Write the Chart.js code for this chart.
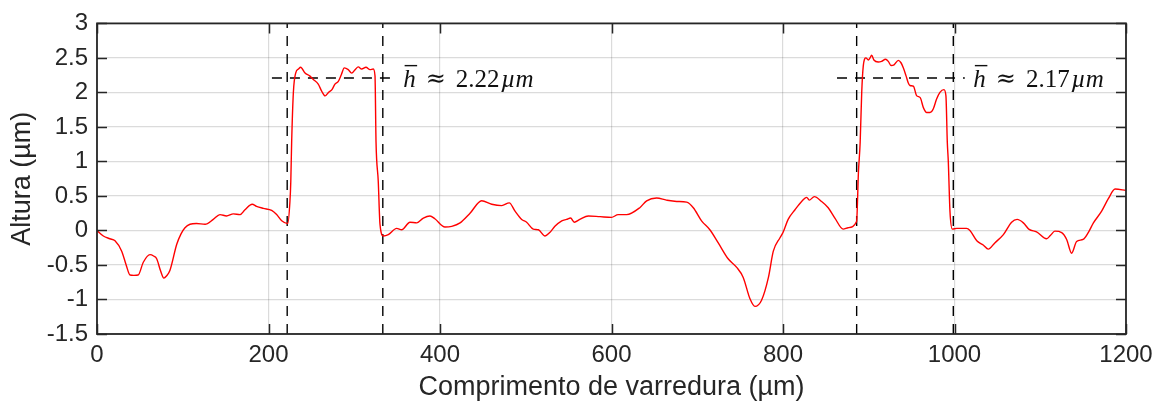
<!DOCTYPE html>
<html>
<head>
<meta charset="utf-8">
<script src="https://cdn.jsdelivr.net/npm/chart.js@4.4.1/dist/chart.umd.min.js"></script>
<style>
  html, body { margin: 0; padding: 0; background: #ffffff; }
  #wrap { width: 1165px; height: 406px; position: relative; }
</style>
</head>
<body>
<div id="wrap"><canvas id="c"></canvas></div>
<script>
// ---- data ----
const scanPositions = [0, 7.4, 15, 21, 28.8, 34, 38.5, 43, 48, 54, 61.8, 66, 69.6, 74, 78, 81, 85, 93, 98, 102.6,
  108.5, 116, 126, 135.6, 143.4, 151, 159, 166.8, 172.6, 181, 186, 194, 203.7, 209.5, 215.4, 222.4, 225, 226, 227, 229,
  231.7, 235, 237.5, 242.6, 248, 252, 258, 262, 266, 270, 274, 277.5, 281.4, 285, 288.4, 293, 297, 301, 304.7, 308.6,
  313.7, 318.4, 322.2, 324.2, 325.4, 328, 330, 334, 339.7, 349.5, 355.3, 365, 372.8, 380.6, 388.3, 394, 405.8, 413.7, 423.4, 435,
  448.6, 460.3, 472, 480.8, 487.5, 495.3, 501, 508.8, 514.7, 522.5, 528, 534, 542, 547.6, 552.3, 556.6, 563, 573, 586.6, 600,
  607.8, 617.6, 633, 641, 652.6, 664, 676, 687.6, 695.4, 705, 714.7, 724.5, 736, 746, 753.6, 761.5, 767.3, 775, 783, 788.7,
  796.5, 800, 806, 814, 821.7, 827.6, 830.6, 836.5, 845, 852.7, 860.5, 870.2, 876, 885.8, 888, 890, 891.8, 893.6, 896.7, 899.5,
  901.5, 903.4, 906, 911, 915, 919.6, 922.8, 926, 929.5, 934.5, 937.6, 940.4, 943.5, 946, 948, 952, 956, 960, 963.7, 967.6,
  971.4, 975.2, 979, 983, 987.7, 990, 991.6, 992.8, 994.7, 997.5, 1002.5, 1014, 1018, 1026, 1033.5, 1039.4, 1047, 1057, 1066.6, 1073,
  1080.3, 1087, 1095.7, 1107.4, 1112, 1117, 1125, 1130.8, 1136.6, 1142.4, 1150, 1156, 1162, 1171.6, 1179.4, 1187.3, 1200];
const heights = [0, -0.08, -0.12, -0.15, -0.3, -0.5, -0.645, -0.65, -0.645, -0.46, -0.35, -0.37, -0.41, -0.58, -0.69, -0.66, -0.58, -0.2, -0.05, 0.04,
  0.09, 0.1, 0.09, 0.16, 0.23, 0.21, 0.24, 0.23, 0.30, 0.38, 0.35, 0.32, 0.29, 0.23, 0.14, 0.1, 0.42, 0.71, 1.28, 2.0,
  2.28, 2.34, 2.365, 2.28, 2.24, 2.19, 2.12, 2.02, 1.95, 2.0, 2.04, 2.12, 2.16, 2.26, 2.355, 2.33, 2.28, 2.33, 2.37, 2.34,
  2.365, 2.33, 2.34, 2.24, 1.28, 0.71, 0.09, -0.08, -0.06, 0.03, 0.01, 0.12, 0.11, 0.18, 0.21, 0.17, 0.05, 0.06, 0.11, 0.25,
  0.43, 0.38, 0.36, 0.40, 0.28, 0.16, 0.12, 0.02, 0.01, -0.08, -0.03, 0.06, 0.14, 0.16, 0.18, 0.12, 0.16, 0.21, 0.20, 0.19,
  0.23, 0.23, 0.33, 0.43, 0.47, 0.44, 0.42, 0.41, 0.33, 0.14, 0.01, -0.18, -0.41, -0.535, -0.68, -0.99, -1.10, -1.01, -0.68, -0.30,
  -0.105, -0.03, 0.16, 0.30, 0.42, 0.48, 0.44, 0.49, 0.42, 0.33, 0.18, 0.02, 0.04, 0.13, 0.85, 1.28, 2.0, 2.38, 2.50, 2.47,
  2.50, 2.54, 2.47, 2.44, 2.45, 2.48, 2.45, 2.39, 2.40, 2.465, 2.43, 2.355, 2.24, 2.14, 2.10, 2.09, 1.95, 1.925, 1.78, 1.71,
  1.71, 1.76, 1.90, 2.0, 2.04, 1.95, 1.28, 0.99, 0.28, 0.02, 0.03, 0.03, 0.0, -0.15, -0.21, -0.27, -0.18, -0.06, 0.12, 0.16,
  0.11, 0.015, -0.02, -0.12, -0.07, -0.01, -0.03, -0.13, -0.33, -0.16, -0.13, -0.03, 0.11, 0.28, 0.46, 0.60, 0.58];

// step edges (vertical dashed markers)
const stepEdges = [221.8, 333.3, 885.9, 998.6];
// mean height reference lines: start, end, level, label
const meanLineStart = [204, 863];
const meanLineEnd = [347.5, 1012];
const meanLineLevel = [2.21, 2.21];
const meanLabelValues = ['2.22', '2.17'];
const meanLabelX = [357, 1022];

const xTickValues = [0, 200, 400, 600, 800, 1000, 1200];
const xTickLabels = ['0', '200', '400', '600', '800', '1000', '1200'];
const yTickValues = [-1.5, -1, -0.5, 0, 0.5, 1, 1.5, 2, 2.5, 3];
const yTickLabels = ['-1.5', '-1', '-0.5', '0', '0.5', '1', '1.5', '2', '2.5', '3'];

const xTitle = 'Comprimento de varredura (µm)';
const yTitle = 'Altura (µm)';

// ---- build datasets ----
const profile = scanPositions.map((x, i) => ({ x: x, y: heights[i] }));
const datasets = [{
  data: profile,
  borderColor: '#ff0000',
  borderWidth: 1.4,
  pointRadius: 0,
  cubicInterpolationMode: 'monotone',
  fill: false,
  order: 0
}];
const Y_MIN = -1.5, Y_MAX = 3;
stepEdges.forEach(e => datasets.push({
  data: [{ x: e, y: Y_MIN }, { x: e, y: Y_MAX }],
  borderColor: '#000000', borderWidth: 1.4, borderDash: [10, 8],
  pointRadius: 0, tension: 0, order: 1
}));
meanLineLevel.forEach((lv, i) => datasets.push({
  data: [{ x: meanLineStart[i], y: lv }, { x: meanLineEnd[i], y: lv }],
  borderColor: '#000000', borderWidth: 1.4, borderDash: [10, 8],
  pointRadius: 0, tension: 0, order: 1
}));

const AXIS_COLOR = '#262626';
const SANS = '"Liberation Sans", Arial, Helvetica, sans-serif';

const frameAndLabels = {
  id: 'frameAndLabels',
  afterDraw(chart) {
    const { ctx, chartArea: a, scales } = chart;
    const xs = scales.x, ys = scales.y;
    ctx.save();
    // inward ticks
    ctx.strokeStyle = AXIS_COLOR;
    ctx.lineWidth = 1.5;
    const TL = 10;
    ctx.beginPath();
    xTickValues.forEach(v => {
      const px = Math.round(xs.getPixelForValue(v)) + 0.5;
      ctx.moveTo(px, a.bottom); ctx.lineTo(px, a.bottom - TL);
      ctx.moveTo(px, a.top); ctx.lineTo(px, a.top + TL);
    });
    yTickValues.forEach(v => {
      const py = Math.round(ys.getPixelForValue(v)) + 0.5;
      ctx.moveTo(a.left, py); ctx.lineTo(a.left + TL, py);
      ctx.moveTo(a.right, py); ctx.lineTo(a.right - TL, py);
    });
    ctx.stroke();
    // frame
    ctx.lineWidth = 1.8;
    ctx.strokeRect(a.left, a.top, a.right - a.left, a.bottom - a.top);

    // mean height labels: h-bar ≈ value µm
    const fs = 25;
    const serif = '"Liberation Serif", "Times New Roman", serif';
    ctx.fillStyle = '#111111';
    ctx.textBaseline = 'alphabetic';
    ctx.textAlign = 'left';
    meanLabelValues.forEach((val, i) => {
      let x = xs.getPixelForValue(meanLabelX[i]);
      const base = ys.getPixelForValue(meanLineLevel[i]) + 9;
      ctx.font = 'italic ' + fs + 'px ' + serif;
      const hw = ctx.measureText('h').width;
      ctx.fillText('h', x, base);
      // overline
      ctx.fillRect(x + 1.5, base - 22, hw, 1.4);
      x += hw + 10;
      ctx.font = '24px "DejaVu Serif", serif';
      ctx.fillText('≈', x, base - 1);
      x += ctx.measureText('≈').width + 10;
      ctx.font = fs + 'px ' + serif;
      ctx.fillText(val, x, base);
      x += ctx.measureText(val).width + 1.5;
      ctx.font = 'italic ' + fs + 'px ' + serif;
      ctx.fillText('µm', x, base);
    });
    ctx.restore();
  }
};

new Chart(document.getElementById('c'), {
  type: 'line',
  data: { datasets },
  plugins: [frameAndLabels],
  options: {
    responsive: true,
    maintainAspectRatio: false,
    animation: false,
    events: [],
    layout: { padding: { top: 20, right: 39, left: 0, bottom: 0 } },
    plugins: { legend: { display: false }, tooltip: { enabled: false } },
    scales: {
      x: {
        type: 'linear', min: 0, max: 1200,
        afterBuildTicks: s => { s.ticks = xTickValues.map(v => ({ value: v })); },
        afterFit: s => { s.height = 72; },
        ticks: {
          callback: (v) => xTickLabels[xTickValues.indexOf(v)],
          font: { family: SANS, size: 24 }, color: AXIS_COLOR, padding: 7,
          maxRotation: 0, autoSkip: false
        },
        grid: { color: 'rgba(0,0,0,0.14)', lineWidth: 1.2, drawTicks: false },
        border: { display: false },
        title: { display: true, text: xTitle, font: { family: SANS, size: 27 }, color: AXIS_COLOR, padding: { top: 0, bottom: 2 } }
      },
      y: {
        type: 'linear', min: Y_MIN, max: Y_MAX,
        afterBuildTicks: s => { s.ticks = yTickValues.map(v => ({ value: v })); },
        afterFit: s => { s.width = 97; },
        ticks: {
          callback: (v) => yTickLabels[yTickValues.indexOf(v)],
          font: { family: SANS, size: 24 }, color: AXIS_COLOR, padding: 9, autoSkip: false
        },
        grid: { color: 'rgba(0,0,0,0.14)', lineWidth: 1.2, drawTicks: false },
        border: { display: false },
        title: { display: true, text: yTitle, font: { family: SANS, size: 27 }, color: AXIS_COLOR, padding: { top: 6, bottom: 0 } }
      }
    }
  }
});
</script>
</body>
</html>
